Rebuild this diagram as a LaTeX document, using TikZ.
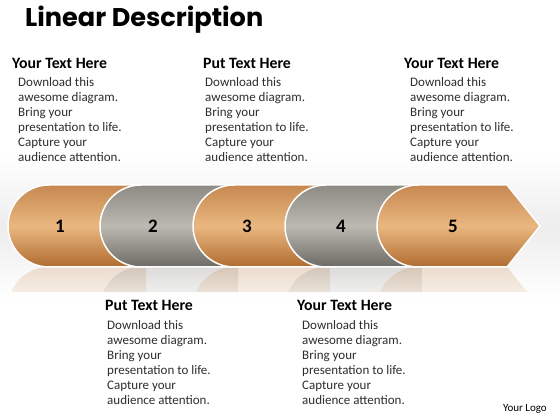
\documentclass[tikz,border=0pt]{standalone}
\usepackage{fontspec}
\setmainfont{Carlito}
\newfontfamily\titlefont{Poppins}
\usetikzlibrary{fadings}
\definecolor{bronzetop}{RGB}{198,136,80}
\definecolor{bronzemid}{RGB}{234,183,128}
\definecolor{bronzebot}{RGB}{176,108,48}
\definecolor{greytop}{RGB}{140,138,131}
\definecolor{greymid}{RGB}{188,185,177}
\definecolor{greybot}{RGB}{108,106,100}
\definecolor{bodygrey}{RGB}{45,45,45}

\begin{document}
\begin{tikzpicture}[x=1pt, y=1pt,
	head/.style={anchor=base west, inner sep=0pt, font=\fontsize{15.8}{18}\selectfont\bfseries},
	body/.style={anchor=north west, inner sep=0pt, align=left, text=bodygrey, font=\fontsize{13}{15}\selectfont},
	num/.style={inner sep=0pt, font=\fontsize{19}{21}\selectfont\bfseries},
	bronze/.style={top color=bronzetop, bottom color=bronzebot, middle color=bronzemid},
	grey/.style={top color=greytop, bottom color=greybot, middle color=greymid},
	seg/.style={draw=white, line width=1.5pt}]
	\useasboundingbox (0,0) rectangle (560,420);
	% background band
	\shade[top color=white, bottom color=white, middle color=black!7] (0,120) rectangle (560,265);
	% reflection
	\begin{scope}
		\clip (0,128) rectangle (560,153);
		\foreach \l/\r/\c in {8/146/bronze, 100/238/grey, 193/330/bronze, 285/422/grey}
			\path[\c, opacity=0.25, path fading=south] (\l+41,71) arc (270:90:41) -- (\r,153) -- (\r,71) -- cycle;
		\path[bronze, opacity=0.25, path fading=south] (418,71) arc (270:90:41) -- (507,153) -- (540,112) -- (507,71) -- cycle;
	\end{scope}
	% segments
	\foreach \l/\r/\c in {8/146/bronze, 100/238/grey, 193/330/bronze, 285/422/grey}
		\path[seg, \c] (\l+41,235) arc (90:270:41) -- (\r,153) -- (\r,235) -- cycle;
	\path[seg, bronze] (418,235) arc (90:270:41) -- (507,153) -- (540,194) -- (507,235) -- cycle;
	\node[num] (n1) at (60,194) {1};
	\node[num] (n2) at (153,194) {2};
	\node[num] (n3) at (247,194) {3};
	\node[num] (n4) at (341,194) {4};
	\node[num] (n5) at (453,194) {5};
	% title
	\node[anchor=base west, inner sep=0pt, font=\titlefont\fontsize{25.6}{28}\selectfont\bfseries] (title) at (25,393) {Linear Description};
	% upper texts
	\node[head] (h1) at (12,351) {Your Text Here};
	\node[body] (b1) at (18,343) {Download this\\awesome diagram.\\Bring your\\presentation to life.\\Capture your\\audience attention.};
	\node[head] (h2) at (203,351) {Put Text Here};
	\node[body] (b2) at (205,343) {Download this\\awesome diagram.\\Bring your\\presentation to life.\\Capture your\\audience attention.};
	\node[head] (h3) at (404,351) {Your Text Here};
	\node[body] (b3) at (410,343) {Download this\\awesome diagram.\\Bring your\\presentation to life.\\Capture your\\audience attention.};
	% lower texts
	\node[head] (h4) at (105,109) {Put Text Here};
	\node[body] (b4) at (107,100) {Download this\\awesome diagram.\\Bring your\\presentation to life.\\Capture your\\audience attention.};
	\node[head] (h5) at (297,109) {Your Text Here};
	\node[body] (b5) at (302,100) {Download this\\awesome diagram.\\Bring your\\presentation to life.\\Capture your\\audience attention.};
	\node[anchor=base east, inner sep=0pt, font=\fontsize{11}{13}\selectfont] (logo) at (547,8) {Your Logo};
\end{tikzpicture}
\end{document}
